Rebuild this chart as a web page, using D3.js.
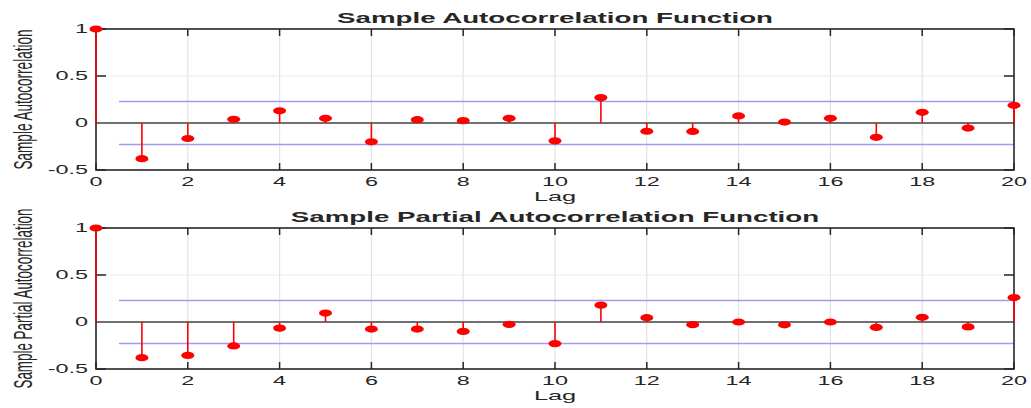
<!DOCTYPE html>
<html>
<head>
<meta charset="utf-8">
<script src="https://cdn.jsdelivr.net/npm/d3@7"></script>
<style>
  body { margin: 0; background: #fff; }
  svg { display: block; font-family: "Liberation Sans", Arial, sans-serif; }
</style>
</head>
<body>
<div id="chart"></div>
<script>
// chart values
const lags = [0, 1, 2, 3, 4, 5, 6, 7, 8, 9, 10, 11, 12, 13, 14, 15, 16, 17, 18, 19, 20];
const acfValues = [1, -0.38, -0.165, 0.04, 0.13, 0.05, -0.2, 0.035, 0.025, 0.05, -0.19,
                   0.27, -0.088, -0.09, 0.075, 0.01, 0.05, -0.152, 0.114, -0.054, 0.188];
const pacfValues = [1, -0.38, -0.355, -0.255, -0.065, 0.095, -0.075, -0.075, -0.1, -0.025, -0.23,
                    0.18, 0.046, -0.028, 0, -0.03, 0, -0.057, 0.05, -0.052, 0.26];
const confBound = [0.23];
const xTicks = [0, 2, 4, 6, 8, 10, 12, 14, 16, 18, 20];
const yTicks = [-0.5, 0, 0.5, 1];
const titles = ["Sample Autocorrelation Function", "Sample Partial Autocorrelation Function"];
const yLabels = ["Sample Autocorrelation", "Sample Partial Autocorrelation"];

const W = 1031, H = 408;
const SX = 1.95; // the reference is stretched horizontally

const svg = d3.select("#chart").append("svg")
    .attr("width", W)
    .attr("height", H);

// text that is stretched along x like in the picture
function stretchedText(g, x, y, str, opts) {
    const t = g.append("g")
        .attr("transform", "translate(" + x + "," + y + ") scale(" + (opts.sx || SX) + ",1)" + (opts.rotate ? " rotate(-90)" : ""))
        .append("text")
        .attr("x", 0)
        .attr("y", 0)
        .attr("text-anchor", opts.anchor || "middle")
        .attr("dominant-baseline", opts.baseline || "auto")
        .attr("font-size", opts.size)
        .attr("font-weight", opts.weight || "normal")
        .attr("fill", opts.fill || "#262626")
        .text(str);
    if (opts.len) t.attr("textLength", opts.len).attr("lengthAdjust", "spacingAndGlyphs");
    return t;
}

function drawPanel(top, values, title, ylabel, labelLen) {
    const x = d3.scaleLinear().domain([0, 20]).range([96, 1014]);
    const y = d3.scaleLinear().domain([-0.5, 1]).range([top + 141, top]);
    const g = svg.append("g");

    // grid
    g.selectAll(".vgrid").data(xTicks.filter(d => d > 0 && d < 20)).enter().append("line")
        .attr("x1", d => x(d)).attr("x2", d => x(d))
        .attr("y1", y(1)).attr("y2", y(-0.5))
        .attr("stroke", "#e3e3e3").attr("stroke-width", 1.2);
    g.selectAll(".hgrid").data(yTicks.filter(d => d === 0.5)).enter().append("line")
        .attr("x1", x(0)).attr("x2", x(20))
        .attr("y1", d => y(d)).attr("y2", d => y(d))
        .attr("stroke", "#ebebeb").attr("stroke-width", 1.2);

    // ticks, pointing inward on all four sides
    xTicks.forEach(d => {
        g.append("line").attr("x1", x(d)).attr("x2", x(d))
            .attr("y1", y(-0.5)).attr("y2", y(-0.5) - 7)
            .attr("stroke", "#262626").attr("stroke-width", 1.5);
        g.append("line").attr("x1", x(d)).attr("x2", x(d))
            .attr("y1", y(1)).attr("y2", y(1) + 7)
            .attr("stroke", "#262626").attr("stroke-width", 1.5);
    });
    yTicks.forEach(d => {
        g.append("line").attr("x1", x(0)).attr("x2", x(0) + 10)
            .attr("y1", y(d)).attr("y2", y(d))
            .attr("stroke", "#262626").attr("stroke-width", 1.5);
        g.append("line").attr("x1", x(20)).attr("x2", x(20) - 10)
            .attr("y1", y(d)).attr("y2", y(d))
            .attr("stroke", "#262626").attr("stroke-width", 1.5);
    });

    // zero line
    g.append("line")
        .attr("x1", x(0)).attr("x2", x(20))
        .attr("y1", y(0)).attr("y2", y(0))
        .attr("stroke", "#707070").attr("stroke-width", 2);

    // confidence bounds
    g.selectAll(".bound").data([confBound[0], -confBound[0]]).enter().append("line")
        .attr("x1", x(0.5)).attr("x2", x(20))
        .attr("y1", d => y(d)).attr("y2", d => y(d))
        .attr("stroke", "#9c9cf7").attr("stroke-width", 1.5);

    // box
    g.append("rect")
        .attr("x", x(0)).attr("y", y(1))
        .attr("width", x(20) - x(0)).attr("height", y(-0.5) - y(1))
        .attr("fill", "none").attr("stroke", "#262626").attr("stroke-width", 1.6);

    // stems and markers
    const pts = lags.map((l, i) => ({ lag: l, v: values[i] }));
    g.selectAll(".stem").data(pts).enter().append("line")
        .attr("x1", d => x(d.lag)).attr("x2", d => x(d.lag))
        .attr("y1", y(0)).attr("y2", d => y(d.v))
        .attr("stroke", "#ff0000").attr("stroke-width", 1.6);
    g.selectAll(".mark").data(pts).enter().append("ellipse")
        .attr("cx", d => x(d.lag)).attr("cy", d => y(d.v))
        .attr("rx", 6.5).attr("ry", 3.6)
        .attr("fill", "#ff0000");

    // tick labels
    xTicks.forEach(d => stretchedText(g, x(d), y(-0.5) + 16, String(d), { size: 12 }));
    yTicks.forEach(d => stretchedText(g, 88, y(d), d === -0.5 ? "-0.5" : String(d),
        { size: 12, anchor: "end", baseline: "central" }));

    // labels
    stretchedText(g, 555, y(-0.5) + 31, "Lag", { size: 13 });
    stretchedText(g, 555, top - 6, title, { size: 14, weight: "bold", sx: 1.98 });
    stretchedText(g, 23, y(0.25), ylabel, { size: 13.5, rotate: true, sx: 1.85, len: labelLen, baseline: "central" });
}

drawPanel(29, acfValues, titles[0], yLabels[0], 140);
drawPanel(228, pacfValues, titles[1], yLabels[1], 180);
</script>
</body>
</html>
